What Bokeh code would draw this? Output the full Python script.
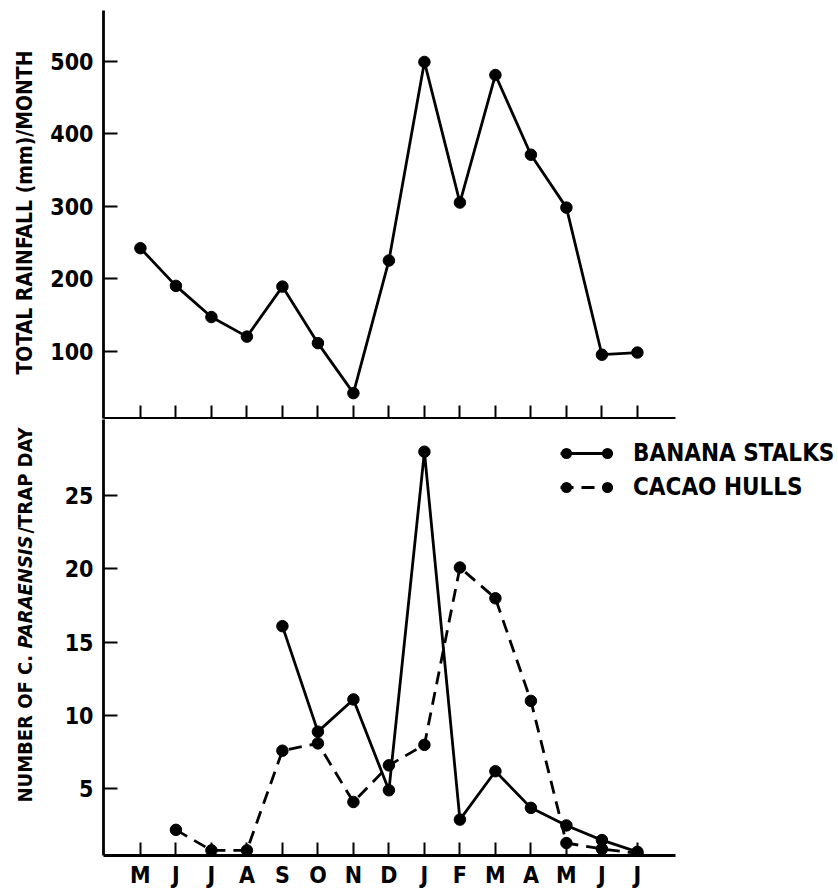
import math
from bokeh.plotting import figure
from bokeh.models import Range1d, FixedTicker, Legend, LegendItem
from bokeh.layouts import column, row
from bokeh.embed import file_html
from bokeh.resources import INLINE
from bokeh.core.properties import value

# ---------------- data ----------------
months = ["M", "J", "J", "A", "S", "O", "N", "D", "J", "F", "M", "A", "M", "J", "J"]
rainfall = [242, 190, 147, 120, 189, 111, 42, 225, 499, 305, 481, 371, 298, 95, 98]
banana = [None, None, None, None, 16.1, 8.9, 11.1, 4.9, 28.0, 2.9, 6.2, 3.7, 2.5, 1.5, 0.7]
cacao = [None, 2.2, 0.8, 0.8, 7.6, 8.1, 4.1, 6.6, 8.0, 20.1, 18.0, 11.0, 1.3, 0.9, 0.6]
rain_ticks = [100, 200, 300, 400, 500]
count_ticks = [5, 10, 15, 20, 25]
rain_title = "TOTAL RAINFALL (mm)/MONTH"
count_title = [("NUMBER OF C. ", "bold"), ("PARAENSIS", "bold italic"), ("/TRAP DAY", "bold")]
legend_labels = ["BANANA STALKS", "CACAO HULLS"]

FONT = "DejaVu Sans Condensed, Roboto Condensed, Roboto"
FS = "23px"
LW = 2.8
NAN = float("nan")

xs = list(range(len(months)))
ban_x = [i for i, v in zip(xs, banana) if v is not None]
ban_y = [v for v in banana if v is not None]
cac_x = [i for i, v in zip(xs, cacao) if v is not None]
cac_y = [v for v in cacao if v is not None]

AUX_W = 45
W = 790
x_range = Range1d(-1.04, -1.04 + (W - 58) / 35.5)
common = dict(width=W, output_backend="svg", toolbar_location=None,
              min_border_left=58, min_border_right=0)


def style(p):
    p.outline_line_color = None
    p.xgrid.visible = False
    p.ygrid.visible = False
    for ax in (p.xaxis[0], p.yaxis[0]):
        ax.axis_line_width = LW
        ax.axis_line_color = "black"
        ax.major_tick_line_width = 2
        ax.major_tick_line_color = "black"
        ax.major_tick_out = 0
        ax.minor_tick_line_color = None
        ax.major_label_text_font = FONT
        ax.major_label_text_font_style = "bold"
        ax.major_label_text_font_size = FS
        ax.major_label_text_color = "black"
    p.xaxis[0].ticker = FixedTicker(ticks=xs)
    p.xaxis[0].bounds = (-1.04, 15.07)
    p.xaxis[0].major_tick_in = 13
    p.yaxis[0].major_tick_in = 14
    p.yaxis[0].major_label_standoff = 10


# ---------------- top: rainfall ----------------
p1 = figure(height=419, x_range=x_range, y_range=Range1d(7, 570),
            min_border_top=10, min_border_bottom=1, **common)
style(p1)
p1.yaxis[0].ticker = FixedTicker(ticks=rain_ticks)
p1.xaxis[0].major_label_overrides = {i: "" for i in xs}
p1.xaxis[0].major_label_standoff = 0
p1.line(xs, rainfall, line_color="black", line_width=LW)
p1.scatter(xs, rainfall, size=11.5, color="black")

# ---------------- bottom: trap counts ----------------
p2 = figure(height=471, x_range=x_range, y_range=Range1d(0.45, 30.2),
            min_border_top=0, min_border_bottom=33, **common)
style(p2)
p2.yaxis[0].ticker = FixedTicker(ticks=count_ticks)
p2.xaxis[0].major_label_overrides = {i: m for i, m in enumerate(months)}
p2.xaxis[0].major_label_standoff = 6

l1 = p2.line(ban_x, ban_y, line_color="black", line_width=LW)
p2.scatter(ban_x, ban_y, size=11.5, color="black")
l2 = p2.line(cac_x, cac_y, line_color="black", line_width=LW, line_dash="13 8")
p2.scatter(cac_x, cac_y, size=11.5, color="black")

# legend key: line with a dot near each end (round-capped zero-length dashes)
key = dict(line_color="black", line_width=11, line_cap="round", line_dash="0 41", line_dash_offset=-6)
k1 = p2.line(x=[NAN], y=[NAN], **key)
k2 = p2.line(x=[NAN], y=[NAN], **key)

legend = Legend(items=[LegendItem(label=legend_labels[0], renderers=[l1, k1]),
                       LegendItem(label=legend_labels[1], renderers=[l2, k2])],
                location=(457, 353), glyph_width=53, glyph_height=30,
                label_standoff=20, padding=0, margin=0, spacing=4,
                border_line_color=None, background_fill_alpha=0,
                label_text_font=FONT, label_text_font_style="bold",
                label_text_color="black",
                label_text_font_size="24px", label_height=30)
p2.add_layout(legend)

# ---------------- left strip with the axis titles ----------------
aux = figure(width=AUX_W, height=890, x_range=Range1d(0, AUX_W), y_range=Range1d(890, 0),
             output_backend="svg", toolbar_location=None, x_axis_type=None, y_axis_type=None,
             min_border_left=0, min_border_right=0, min_border_top=0, min_border_bottom=0)
aux.outline_line_color = None
aux.xgrid.visible = False
aux.ygrid.visible = False
aux.text(x=[24], y=[212], text=[rain_title], angle=math.pi / 2,
         text_align="center", text_baseline="middle", text_font=value(FONT),
         text_font_style="bold", text_font_size="21px", text_color="black")
TFS = 20
starts = [802, 802 - 7.7 * TFS, 802 - 7.7 * TFS - 5.75 * TFS]
for (txt, st), y0 in zip(count_title, starts):
    aux.text(x=[24], y=[y0], text=[txt], angle=math.pi / 2,
             text_align="left", text_baseline="middle", text_font=value(FONT),
             text_font_style=st, text_font_size=f"{TFS}px", text_color="black")

layout = row(aux, column(p1, p2, spacing=0), spacing=0)
open("out.html", "w").write(file_html(layout, INLINE))
